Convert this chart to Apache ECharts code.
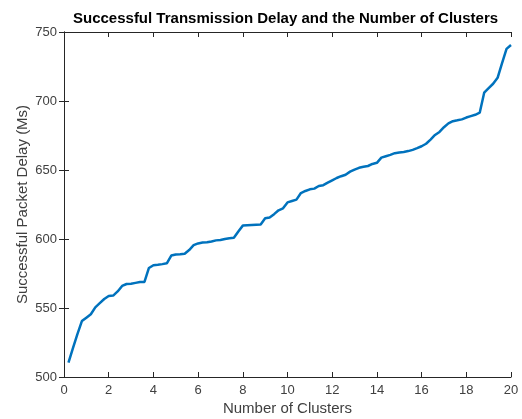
<!DOCTYPE html>
<html>
<head>
<meta charset="utf-8">
<script src="https://cdn.jsdelivr.net/npm/echarts@6/dist/echarts.min.js"></script>
<style>
  html, body { margin: 0; padding: 0; background: #fff; }
  #chart { width: 522px; height: 419px; }
</style>
</head>
<body>
<div id="chart"></div>
<script>
// Number of clusters (x) and successful packet delay in ms (y)
const clusters = [
  0.2, 0.4, 0.6, 0.8, 1.0, 1.2, 1.4, 1.6, 1.8, 2.0,
  2.2, 2.4, 2.6, 2.8, 3.0, 3.2, 3.4, 3.6, 3.8, 4.0,
  4.2, 4.4, 4.6, 4.8, 5.0, 5.2, 5.4, 5.6, 5.8, 6.0,
  6.2, 6.4, 6.6, 6.8, 7.0, 7.2, 7.4, 7.6, 7.8, 8.0,
  8.2, 8.4, 8.6, 8.8, 9.0, 9.2, 9.4, 9.6, 9.8, 10.0,
  10.2, 10.4, 10.6, 10.8, 11.0, 11.2, 11.4, 11.6, 11.8, 12.0,
  12.2, 12.4, 12.6, 12.8, 13.0, 13.2, 13.4, 13.6, 13.8, 14.0,
  14.2, 14.4, 14.6, 14.8, 15.0, 15.2, 15.4, 15.6, 15.8, 16.0,
  16.2, 16.4, 16.6, 16.8, 17.0, 17.2, 17.4, 17.6, 17.8, 18.0,
  18.2, 18.4, 18.6, 18.8, 19.0, 19.2, 19.4, 19.6, 19.8, 20.0
];
const delayMs = [
  510.5, 521, 531, 540.5, 543, 545.5, 550.5, 553.5, 556.5, 558.7,
  559, 562, 566, 567.4, 567.6, 568.2, 568.8, 568.9, 579, 581,
  581.3, 581.8, 582.4, 588, 588.8, 589, 589.3, 592, 595.5, 596.8,
  597.4, 597.6, 598.2, 599, 599.3, 600, 600.6, 600.9, 605.5, 609.7,
  609.9, 610.1, 610.3, 610.5, 615, 615.6, 618, 620.8, 622.2, 626.5,
  627.5, 628.5, 633.3, 634.8, 636, 636.5, 638.4, 639, 640.8, 642.5,
  644.2, 645.5, 646.6, 648.8, 650.3, 651.6, 652.3, 652.9, 654.4, 655.2,
  659, 660, 661, 662.2, 662.7, 663.1, 663.7, 664.6, 665.8, 667.2,
  669, 672, 675.4, 677.6, 681, 683.8, 685.4, 686, 686.7, 688,
  689, 690, 691.5, 706, 709.3, 712.5, 716.8, 727.5, 737.8, 740.6
];

const titleText = 'Successful Transmission Delay and the Number of Clusters';
const xName = 'Number of Clusters';
const yName = 'Successful Packet Delay (Ms)';

const font = '"Liberation Sans", Arial, Helvetica, sans-serif';
const axisColor = '#262626';
const labelColor = '#404040';

const chart = echarts.init(document.getElementById('chart'), null, { renderer: 'canvas' });

const boxAxis = (extra) => Object.assign({
  type: 'value',
  min: 0, max: 20, interval: 2,
  axisLine: { show: true, lineStyle: { color: axisColor, width: 1 } },
  axisTick: { show: true, inside: true, length: 5, lineStyle: { color: axisColor } },
  splitLine: { show: false }
}, extra);

chart.setOption({
  animation: false,
  backgroundColor: '#fff',
  title: {
    text: titleText,
    left: 68, top: 6,
    textStyle: { fontFamily: font, fontSize: 15, fontWeight: 'bold', color: '#000' }
  },
  grid: { left: 64, right: 11, top: 32, bottom: 42, containLabel: false, outerBoundsMode: 'none' },
  xAxis: [
    boxAxis({
      position: 'bottom',
      name: xName, nameLocation: 'middle', nameGap: 24, nameMoveOverlap: false,
      nameTextStyle: { fontFamily: font, fontSize: 15, color: labelColor },
      axisLabel: { show: true, margin: 7, fontFamily: font, fontSize: 13, color: labelColor }
    }),
    boxAxis({ position: 'top', axisLabel: { show: false } })
  ],
  yAxis: [
    boxAxis({
      position: 'left', min: 500, max: 750, interval: 50,
      name: yName, nameLocation: 'middle', nameGap: 34, nameRotate: 90, nameMoveOverlap: false,
      nameTextStyle: { fontFamily: font, fontSize: 15, color: labelColor },
      axisLabel: { show: true, margin: 7, fontFamily: font, fontSize: 13, color: labelColor }
    }),
    boxAxis({ position: 'right', min: 500, max: 750, interval: 50, axisLabel: { show: false } })
  ],
  series: [{
    type: 'line',
    xAxisIndex: 0, yAxisIndex: 0,
    data: clusters.map((c, i) => [c, delayMs[i]]),
    showSymbol: false,
    lineStyle: { color: '#0072BD', width: 2.5 },
    clip: true
  }]
});
</script>
</body>
</html>
